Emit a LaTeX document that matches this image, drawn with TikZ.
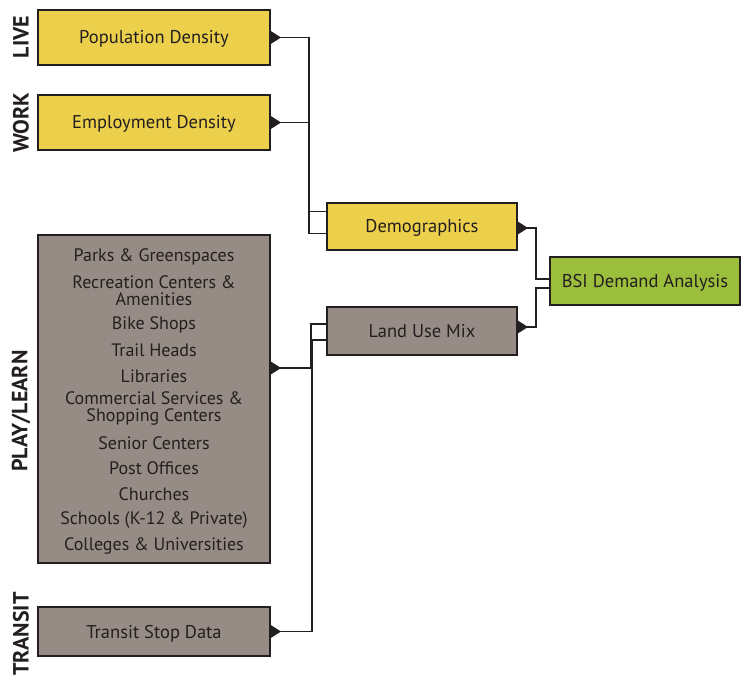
\documentclass[tikz,border=0pt]{standalone}
\usepackage{fontspec}
\setmainfont{PT Sans}
\usetikzlibrary{calc}
\definecolor{ink}{RGB}{35,31,32}
\definecolor{yel}{RGB}{236,208,76}
\definecolor{gry}{RGB}{150,140,133}
\definecolor{grn}{RGB}{155,190,60}
\tikzset{
  box/.style={draw=ink, line width=1.4pt, text=ink, font=\fontsize{18.5}{18}\selectfont, inner sep=0pt, outer sep=0pt, text height=13pt, text depth=0pt},
  ybox/.style={box, fill=yel},
  gbox/.style={box, fill=gry},
  vbox/.style={box, fill=grn},
  item/.style={text=ink, font=\fontsize{18}{17}\selectfont, align=center, inner sep=0pt},
  side/.style={text=ink, font=\fontsize{22}{22}\selectfont\bfseries, rotate=90, inner sep=0pt},
  conn/.style={draw=ink, line width=1.4pt},
  tip/.style={fill=ink}
}
\begin{document}
\begin{tikzpicture}[x=1pt,y=-1pt]
\useasboundingbox (0,0) rectangle (749,676);
% boxes
\node[ybox, minimum width=232pt, minimum height=55pt] (pop) at (154,37.5) {Population Density};
\node[ybox, minimum width=232pt, minimum height=55pt] (emp) at (154,122.5) {Employment Density};
\node[gbox, minimum width=232pt, minimum height=328pt, text height=0pt] (play) at (154,399) {};
\node[gbox, minimum width=232pt, minimum height=49pt] (tra) at (154,631.5) {Transit Stop Data};
\node[ybox, minimum width=190pt, minimum height=47pt] (demo) at (422,226.5) {Demographics};
\node[gbox, minimum width=190pt, minimum height=48pt] (land) at (422,331) {Land Use Mix};
\node[vbox, minimum width=190pt, minimum height=48pt] (bsi) at (645,281) {BSI Demand Analysis};
% play/learn items
\node[item] (p1) at (154,257) {Parks \& Greenspaces};
\node[item] (p2) at (154,290.5) {Recreation Centers \&\\Amenities};
\node[item] (p3) at (154,325) {Bike Shops};
\node[item] (p4) at (154,350) {Trail Heads};
\node[item] (p5) at (154,376) {Libraries};
\node[item] (p6) at (154,408.5) {Commercial Services \&\\Shopping Centers};
\node[item] (p7) at (154,443) {Senior Centers};
\node[item] (p8) at (154,468) {Post Offices};
\node[item] (p9) at (154,494) {Churches};
\node[item] (p10) at (154,520) {Schools (K-12 \& Private)};
\node[item] (p11) at (154,546) {Colleges \& Universities};
% side labels
\node[side] (l1) at (21,37) {LIVE};
\node[side] (l2) at (21,123) {WORK};
\node[side] (l3) at (21,411) {PLAY/LEARN};
\node[side] (l4) at (21,634) {TRANSIT};
% connectors
\draw[conn] (pop.east) -- ++(39,0) |- ($(demo.west)+(0,-15)$);
\draw[conn] (emp.east) -- ++(39,0) |- ($(demo.west)+(0,7)$);
\draw[conn] ($(demo.east)+(0,1.5)$) -- ++(19,0) |- ($(bsi.west)+(0,-2)$);
\draw[conn] ($(land.east)+(0,-4)$) -- ++(19,0) |- ($(bsi.west)+(0,7)$);
\draw[conn] ($(play.east)+(0,-31)$) -- ++(41,0) |- ($(land.west)+(0,-7)$);
\draw[conn] (tra.east) -- ++(42,0) |- ($(land.west)+(0,9)$);
% arrow tips
\foreach \n/\dy in {pop/0, emp/0, demo/1.5, land/-4, play/-31, tra/0}{
  \fill[tip] ($(\n.east)+(0,\dy)+(0,-7)$) -- ++(11,7) -- ++(-11,7) -- cycle;
}
\end{tikzpicture}
\end{document}
